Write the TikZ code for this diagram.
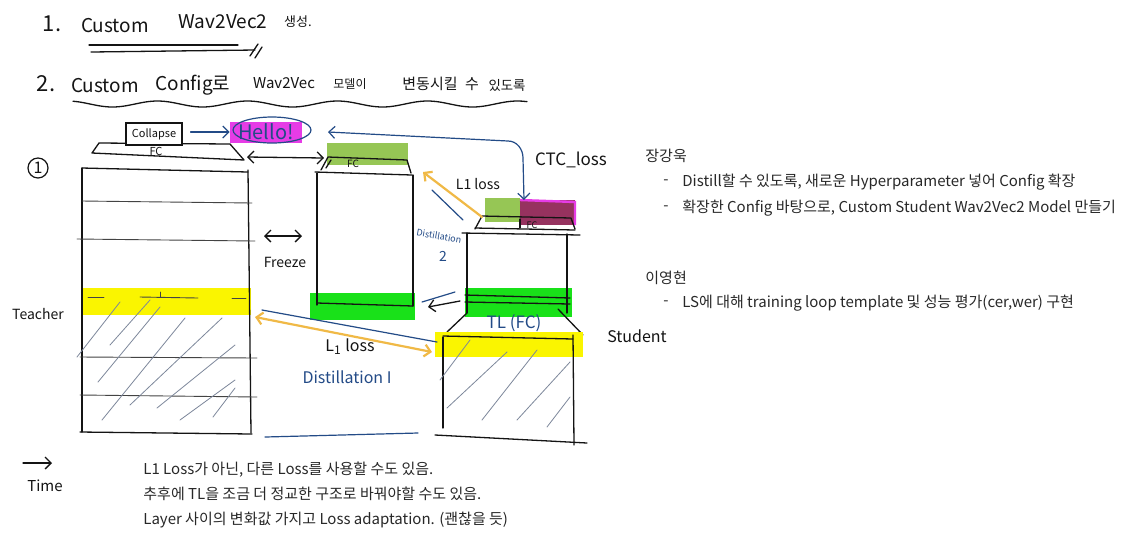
\documentclass[tikz,border=0pt]{standalone}
\usepackage{fontspec}
\setmainfont{Noto Sans CJK KR}
\usetikzlibrary{arrows.meta}
\definecolor{ink}{RGB}{20,20,20}
\definecolor{bink}{RGB}{35,75,135}
\definecolor{oink}{RGB}{240,185,70}
\definecolor{hatchc}{RGB}{125,135,155}
\definecolor{hly}{RGB}{250,245,0}
\definecolor{hlg}{RGB}{25,225,25}
\definecolor{hllg}{RGB}{150,198,85}
\definecolor{hlm}{RGB}{230,60,230}
\definecolor{hldm}{RGB}{150,50,95}
\definecolor{typec}{RGB}{40,40,40}
\tikzset{
  pen/.style={draw=ink, line width=0.65pt, line cap=round, line join=round},
  thinpen/.style={draw=ink!80, line width=0.45pt, line cap=round},
  bpen/.style={draw=bink, line width=0.6pt, line cap=round, line join=round},
  opn/.style={draw=oink, line width=1.1pt, line cap=round},
  hatchline/.style={draw=hatchc, line width=0.4pt, line cap=round},
  tipone/.style={-{Straight Barb[length=3pt,width=6pt]}},
  tipboth/.style={{Straight Barb[length=3pt,width=6pt]}-{Straight Barb[length=3pt,width=6pt]}},
  hand/.style={inner sep=0pt, text=ink},
  bhand/.style={inner sep=0pt, text=bink},
  typed/.style={inner sep=0pt, anchor=west, text=typec, font=\fontsize{7.5}{9}\selectfont},
}
\begin{document}
\begin{tikzpicture}[x=0.5pt,y=-0.5pt]
\useasboundingbox (0,0) rectangle (1135,532);
\fill[white] (0,0) rectangle (1135,532);

% ---------- titles ----------
\node[hand,font=\fontsize{11}{12}\selectfont] (t1n) at (52,24) {1.};
\node[hand,font=\fontsize{9.5}{12}\selectfont] (t1a) at (115,26) {Custom};
\node[hand,font=\fontsize{9.5}{12}\selectfont] (t1b) at (223,22) {Wav2Vec2};
\node[hand,font=\fontsize{6.5}{8}\selectfont] (t1c) at (298,22) {생성.};
\draw[pen] (89,45) -- (238,45);
\draw[pen] (91,52) -- (255,50);
\draw[pen] (258,44) -- (250,56);
\draw[pen] (262,47) -- (255,58);

\node[hand,font=\fontsize{11}{12}\selectfont] (t2n) at (46,84) {2.};
\node[hand,font=\fontsize{9.5}{12}\selectfont] (t2a) at (105,86) {Custom};
\node[hand,font=\fontsize{9.5}{12}\selectfont] (t2b) at (193,85) {Config로};
\node[hand,font=\fontsize{7.5}{9}\selectfont] (t2c) at (284,83) {Wav2Vec};
\node[hand,font=\fontsize{6}{8}\selectfont] (t2d) at (350,84) {모델이};
\node[hand,font=\fontsize{7.5}{9}\selectfont] (t2e) at (430,84) {변동시킬};
\node[hand,font=\fontsize{7.5}{9}\selectfont] (t2f) at (472,84) {수};
\node[hand,font=\fontsize{6.7}{9}\selectfont] (t2g) at (507,85) {있도록};
\draw[pen] plot[domain=73:527, samples=90, smooth] (\x, {104+3*sin(4*\x)});

% ---------- left labels ----------
\node[hand, draw=ink, circle, line width=0.6pt, minimum size=10pt, font=\fontsize{8}{8}\selectfont] (c1) at (38,168) {1};
\node[hand,font=\fontsize{7}{8}\selectfont] (teacherlbl) at (38,314) {Teacher};
\coordinate (timeA) at (23,463);
\coordinate (timeB) at (52,463);
\draw[pen,tipone] (timeA) -- (timeB);
\node[hand,font=\fontsize{7.5}{9}\selectfont] (timelbl) at (45,486) {Time};

% ---------- teacher ----------
\fill[hly] (82,288) rectangle (251,315);
\draw[pen] (82,168) -- (82,432);
\draw[pen] (248,170) -- (251,433);
\draw[pen] (82,168) -- (248,172);
\draw[pen] (80,432) -- (252,434);
\draw[thinpen] (82,201) -- (252,203);
\draw[thinpen] (77,239) -- (255,241);
\draw[thinpen] (80,357) -- (257,358);
\draw[thinpen] (80,395) -- (257,397);
\draw[thinpen] (88,297) -- (104,297);
\draw[thinpen] (140,297) -- (198,298);
\draw[thinpen] (160,292) -- (160,297);
\draw[thinpen] (232,298) -- (246,298);
\foreach \a/\b/\c/\d in {77/357/120/302, 98/382/160/307, 102/420/185/318, 110/345/150/300,
  130/405/222/318, 157/408/235/345, 180/420/235/380, 213/417/235/388}
  \draw[hatchline] (\a,\b) -- (\c,\d);
% teacher FC
\draw[pen] (92,153) -- (99,143) -- (230,144) -- (244,160) -- cycle;
\node[hand,font=\fontsize{5.5}{6}\selectfont] (tfc) at (156,151) {FC};
\node[hand, draw=ink, line width=0.6pt, fill=white, minimum width=28pt, minimum height=11pt, font=\fontsize{5.5}{6}\selectfont] (collapse) at (154,134) {Collapse};
\node[bhand, fill=hlm, minimum width=36pt, minimum height=10.5pt, font=\fontsize{10}{11}\selectfont] (hello) at (266,132) {Hello!};
\draw[bpen] (272,130) ellipse [x radius=39, y radius=13];
\draw[bpen,tipone] (collapse.east) ++(8,-2) coordinate (cA) (cA) -- (hello.west);

% ---------- middle ----------
\fill[hllg] (327,143) rectangle (408,165);
\fill[hlg] (310,293) rectangle (415,320);
\draw[pen] (317,173) -- (317,305);
\draw[pen] (413,175) -- (413,306);
\draw[pen] (315,172) -- (412,175);
\draw[pen] (317,303) -- (413,306);
\draw[pen] (321,170) -- (328,157) -- (407,160) -- (411,173);
\draw[pen] (326,168) -- (331,160);
\node[hand,font=\fontsize{5}{6}\selectfont] (mfc) at (353,164) {FC};
\coordinate (tfcR) at (247,157);
\coordinate (mfcL) at (324,158);
\draw[pen,tipboth] (tfcR) -- (mfcL);
\coordinate (frA) at (264,236);
\coordinate (frB) at (302,236);
\draw[pen,tipboth] (frA) -- (frB);
\node[hand,font=\fontsize{7}{8}\selectfont] (freeze) at (285,262) {Freeze};

% ---------- student ----------
\fill[hllg] (485,198) rectangle (520,222);
\fill[hldm] (520,200) rectangle (575,225);
\draw[hlm, line width=1.2pt] (520,200) -- (575,202) -- (575,225);
\draw[pen] (475,229) -- (482,216) -- (571,218) -- (575,229);
\draw[pen] (475,228) -- (575,230);
\draw[pen] (520,219) -- (520,228);
\node[hand,font=\fontsize{4.5}{5}\selectfont] (sfc) at (532,225) {FC};
\draw[pen] (462,233) -- (580,235);
\fill[hlg] (465,288) rectangle (572,317);
\draw[pen] (467,233) -- (467,313);
\draw[pen] (567,234) -- (567,313);
\draw[pen] (465,295) -- (570,298);
\draw[pen] (465,302) -- (570,304);
\draw[pen] (467,313) -- (447,332);
\draw[pen] (558,309) -- (583,335);
\node[bhand,font=\fontsize{8.5}{9}\selectfont] (tl) at (514,323) {TL (FC)};
\fill[hly] (435,332) rectangle (583,357);
\draw[pen] (443,337) -- (443,428);
\draw[pen] (573,335) -- (574,445);
\draw[pen] (443,336) -- (573,339);
\draw[pen] (435,435) -- (587,443);
\foreach \a/\b/\c/\d in {440/380/470/340, 447/408/507/352, 482/420/537/350, 517/420/570/362, 547/427/570/397}
  \draw[hatchline] (\a,\b) -- (\c,\d);
\node[hand,font=\fontsize{8}{9}\selectfont] (studentlbl) at (637,336) {Student};

% ---------- distillation 2 / CTC ----------
\coordinate (sfcTop) at (482,217);
\coordinate (mfcR) at (423,172);
\draw[opn,tipone] (sfcTop) -- (mfcR);
\draw[bpen] (432,190) -- (463,220);
\node[hand,font=\fontsize{7}{8}\selectfont] (l1up) at (478,184) {L1 loss};
\node[bhand,rotate=-10,font=\fontsize{4.5}{5}\selectfont] (dist2a) at (439,236) {Distillation};
\node[bhand,font=\fontsize{7}{8}\selectfont] (dist2b) at (443,256) {2};
\coordinate (ctcL) at (328,132);
\coordinate (ctcB) at (524,200);
\draw[bpen,tipboth] (ctcL) -- (508,141) to[out=0,in=90] (523,158) -- (ctcB);
\node[hand,font=\fontsize{8.5}{9}\selectfont] (ctc) at (571,160) {CTC\_loss};

% ---------- distillation 1 ----------
\coordinate (grA) at (460,301);
\coordinate (grB) at (428,307);
\draw[pen,tipone] (grA) -- (grB);
\draw[bpen] (422,302) -- (455,292);
\coordinate (yA) at (255,317);
\coordinate (yB) at (432,352);
\draw[opn,tipboth] (yA) -- (yB);
\draw[bpen] (262,310) -- (437,342);
\node[hand,font=\fontsize{8}{9}\selectfont] (l1low) at (350,347) {L\textsubscript{1} loss};
\node[bhand,font=\fontsize{8}{9}\selectfont] (dist1) at (347,377) {Distillation I};
\draw[bpen] (265,437) -- (418,433);

% ---------- typed notes ----------
\node[typed] (n1) at (645,156) {장강욱};
\node[typed] (n1a) at (663,182) {-};
\node[typed] (n1b) at (682,182) {Distill할 수 있도록, 새로운 Hyperparameter 넣어 Config 확장};
\node[typed] (n1c) at (663,208) {-};
\node[typed] (n1d) at (682,208) {확장한 Config 바탕으로, Custom Student Wav2Vec2 Model 만들기};
\node[typed] (n2) at (645,278) {이영현};
\node[typed] (n2a) at (663,303) {-};
\node[typed] (n2b) at (682,303) {LS에 대해 training loop template 및 성능 평가(cer,wer) 구현};
\node[typed] (b1) at (143,470) {L1 Loss가 아닌, 다른 Loss를 사용할 수도 있음.};
\node[typed] (b2) at (143,494) {추후에 TL을 조금 더 정교한 구조로 바꿔야할 수도 있음.};
\node[typed] (b3) at (143,520) {Layer 사이의 변화값 가지고 Loss adaptation. (괜찮을 듯)};
\end{tikzpicture}
\end{document}
